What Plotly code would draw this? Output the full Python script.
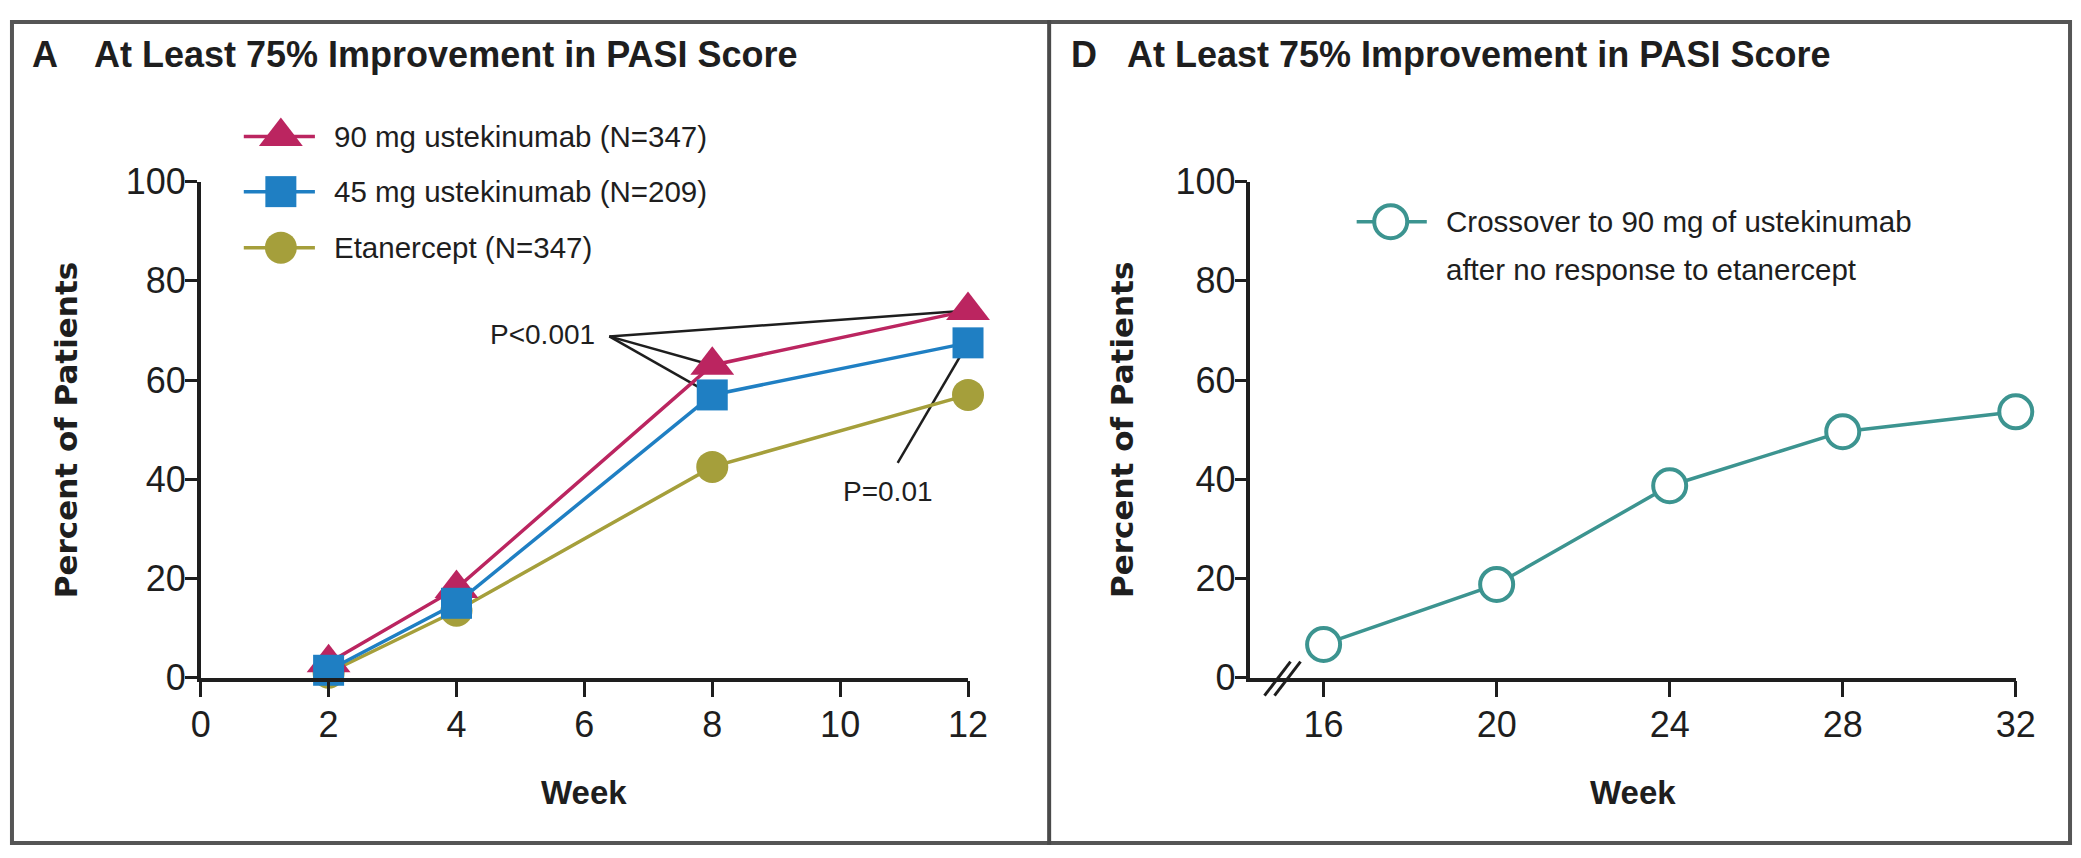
import plotly.graph_objects as go

# ---- data ----
weeks_a = [2, 4, 8, 12]
pct_90mg = [3, 18, 63, 74]
pct_45mg = [1.5, 15, 57, 67.5]
pct_etanercept = [1, 13.5, 42.5, 57]

weeks_d = [16, 20, 24, 28, 32]
pct_crossover = [6.7, 18.8, 38.7, 49.6, 53.6]

ticks_a_x = [0, 2, 4, 6, 8, 10, 12]
ticks_d_x = [16, 20, 24, 28, 32]
ticks_y = [0, 20, 40, 60, 80, 100]

names = ["90 mg ustekinumab (N=347)", "45 mg ustekinumab (N=209)", "Etanercept (N=347)"]
crossover_label = ["Crossover to 90 mg of ustekinumab", "after no response to etanercept"]

# ---- styling ----
C_90 = "#bb2560"
C_45 = "#1f7fc3"
C_ET = "#a59f3b"
C_CR = "#3c9490"
INK = "#1e1e1e"
NARROW = "Liberation Sans Narrow, Liberation Sans, Arial, sans-serif"
SANS = "Liberation Sans, Arial, sans-serif"
WIDE_BOLD = "DejaVu Sans, Verdana, sans-serif"

# figure size, and the linear map from figure pixels to final view pixels
FW, FH = 2092, 866
SX, SY = 0.984, 0.9525
TX, TY = 10.6, 20.4


def fx(t):
    """view x pixel -> paper x"""
    return (t - TX) / SX / FW


def fy(t):
    """view y pixel -> paper y"""
    return 1 - (t - TY) / SY / FH


# panel geometry (view pixels)
A_X0, A_X1 = 201, 967
D_X0, D_X1 = 1249, 2013
Y_TOP, Y_BOT = 182, 678
D_RANGE = [14.31, 32]

fig = go.Figure()

series = [
    (names[2], pct_etanercept, C_ET, "circle", 32),
    (names[0], pct_90mg, C_90, "triangle-up", 38),
    (names[1], pct_45mg, C_45, "square", 31),
]
for name, vals, col, sym, size in series:
    fig.add_trace(go.Scatter(
        x=weeks_a, y=vals, name=name, mode="lines+markers",
        line=dict(color=col, width=3.5),
        marker=dict(symbol=sym, size=size, color=col, line=dict(width=0)),
        cliponaxis=False, xaxis="x", yaxis="y", showlegend=False,
    ))

fig.add_trace(go.Scatter(
    x=weeks_d, y=pct_crossover, mode="lines+markers",
    line=dict(color=C_CR, width=3.5),
    marker=dict(symbol="circle", size=33, color="white", line=dict(color=C_CR, width=4)),
    cliponaxis=False, xaxis="x2", yaxis="y2", showlegend=False,
))

# hand-built legends on a full-figure overlay measured in view pixels
leg_rows = [(137, C_90, "triangle-up", 38), (192, C_45, "square", 31), (248, C_ET, "circle", 32)]
for yy, col, sym, size in leg_rows:
    fig.add_trace(go.Scatter(x=[244, 315], y=[yy, yy], mode="lines",
                             line=dict(color=col, width=3.5), xaxis="x3", yaxis="y3",
                             showlegend=False, hoverinfo="skip"))
    fig.add_trace(go.Scatter(x=[281], y=[yy], mode="markers",
                             marker=dict(symbol=sym, size=size, color=col),
                             xaxis="x3", yaxis="y3", showlegend=False, hoverinfo="skip"))
fig.add_trace(go.Scatter(x=[1355, 1425], y=[222, 222], mode="lines",
                         line=dict(color=C_CR, width=3.5), xaxis="x3", yaxis="y3",
                         showlegend=False, hoverinfo="skip"))
fig.add_trace(go.Scatter(x=[1389], y=[222], mode="markers",
                         marker=dict(symbol="circle", size=33, color="white",
                                     line=dict(color=C_CR, width=4)),
                         xaxis="x3", yaxis="y3", showlegend=False, hoverinfo="skip"))

axis_common = dict(
    showgrid=False, zeroline=False, showline=True, linecolor=INK, linewidth=3.5,
    ticks="outside", tickcolor=INK, tickwidth=3, fixedrange=True,
    tickfont=dict(family=NARROW, size=36, color=INK),
)

fig.update_layout(
    width=FW, height=FH,
    margin=dict(l=0, r=0, t=0, b=0),
    paper_bgcolor="white", plot_bgcolor="rgba(0,0,0,0)",
    xaxis=dict(domain=[fx(A_X0), fx(A_X1)], range=[0, 12], tickvals=ticks_a_x,
               ticklen=16, anchor="y", ticklabelstandoff=-4, **axis_common),
    yaxis=dict(domain=[fy(Y_BOT), fy(Y_TOP)], range=[0, 100], tickvals=ticks_y,
               ticklen=12, anchor="x", ticklabelstandoff=-8, **axis_common),
    xaxis2=dict(domain=[fx(D_X0), fx(D_X1)], range=D_RANGE, tickvals=ticks_d_x,
                ticklen=16, anchor="y2", ticklabelstandoff=-4, **axis_common),
    yaxis2=dict(domain=[fy(Y_BOT), fy(Y_TOP)], range=[0, 100], tickvals=ticks_y,
                ticklen=12, anchor="x2", ticklabelstandoff=-8, **axis_common),
    xaxis3=dict(domain=[0, 1], range=[TX, TX + SX * FW], visible=False,
                fixedrange=True, anchor="y3"),
    yaxis3=dict(domain=[0, 1], range=[TY + SY * FH, TY], visible=False,
                fixedrange=True, anchor="x3"),
)

shapes = []
# panel frame and divider
shapes.append(dict(type="rect", xref="paper", yref="paper",
                   x0=max(fx(7), 2 / FW), x1=min(fx(2075), 1 - 2 / FW),
                   y0=max(fy(853), 2 / FH), y1=min(fy(7), 1 - 2 / FH),
                   line=dict(color="#555555", width=4)))
shapes.append(dict(type="line", xref="paper", yref="paper", x0=fx(1048), x1=fx(1048),
                   y0=0, y1=1, line=dict(color="#4a4a4a", width=4)))

# significance leader lines
p_origin = (6.39, 68.8)
for wk, vals in [(12, pct_90mg), (8, pct_90mg), (8, pct_45mg)]:
    shapes.append(dict(type="line", xref="x", yref="y", x0=p_origin[0], y0=p_origin[1],
                       x1=wk, y1=vals[weeks_a.index(wk)], layer="below",
                       line=dict(color=INK, width=2.5)))
shapes.append(dict(type="line", xref="x", yref="y", x0=10.9, y0=43.3,
                   x1=12, y1=pct_45mg[-1], layer="below", line=dict(color=INK, width=2.5)))


# axis break marks on panel D
def d_px(week):
    return D_X0 + (week - D_RANGE[0]) / (D_RANGE[1] - D_RANGE[0]) * (D_X1 - D_X0)


for off in (-5, 5):
    cx = d_px(15.05) + off
    shapes.append(dict(type="line", xref="paper", yref="paper",
                       x0=fx(cx - 13), y0=fy(Y_BOT + 18), x1=fx(cx + 13), y1=fy(Y_BOT - 16),
                       line=dict(color=INK, width=3)))
fig.update_layout(shapes=shapes)

ann = []


def text(x, y, s, size, family, xanchor="left", bold=False, xref="paper", yref="paper",
         angle=0, yanchor="middle"):
    ann.append(dict(x=x, y=y, xref=xref, yref=yref, text=f"<b>{s}</b>" if bold else s,
                    showarrow=False, xanchor=xanchor, yanchor=yanchor, textangle=angle,
                    font=dict(size=size, family=family, color=INK)))


# panel titles
text(fx(31), fy(55), "A", 36, SANS, bold=True)
text(fx(92), fy(55), "At Least 75% Improvement in PASI Score", 36, SANS, bold=True)
text(fx(1068), fy(55), "D", 36, SANS, bold=True)
text(fx(1124), fy(55), "At Least 75% Improvement in PASI Score", 36, SANS, bold=True)

# legends
for (yy, _, _, _), nm in zip(leg_rows, names):
    text(fx(332), fy(yy), nm, 29.5, NARROW)
text(fx(1442), fy(222), crossover_label[0], 29.5, NARROW)
text(fx(1442), fy(270), crossover_label[1], 29.5, NARROW)

# p-value labels
text(6.2, 69.2, "P&lt;0.001", 28, NARROW, xanchor="right", xref="x", yref="y")
text(10.75, 37.5, "P=0.01", 28, NARROW, xanchor="center", xref="x", yref="y")

# axis titles
for cx in (66, 1120):
    text(fx(cx), fy((Y_TOP + Y_BOT) / 2), "Percent of Patients", 31, WIDE_BOLD,
         xanchor="center", bold=True, angle=-90)
text(fx((A_X0 + A_X1) / 2), fy(793), "Week", 33, NARROW, xanchor="center", bold=True)
text(fx((D_X0 + D_X1) / 2), fy(793), "Week", 33, NARROW, xanchor="center", bold=True)

fig.update_layout(annotations=ann)

fig.write_html("out.html")
